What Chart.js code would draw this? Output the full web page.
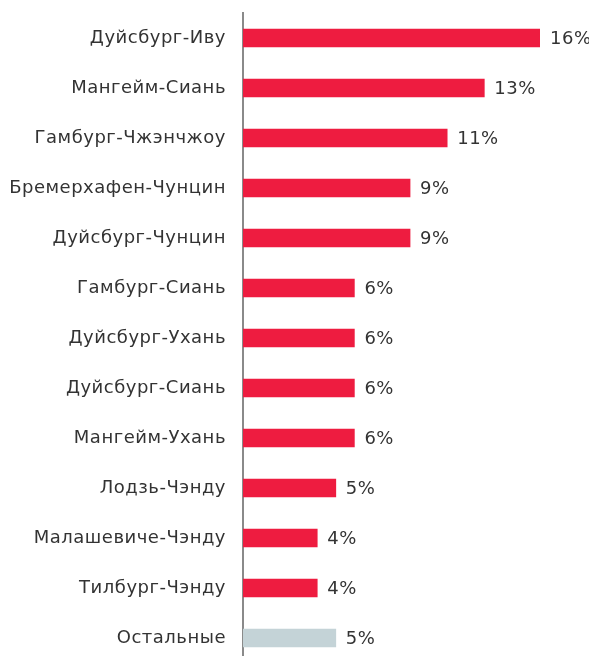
<!DOCTYPE html>
<html>
<head>
<meta charset="utf-8">
<script src="https://cdn.jsdelivr.net/npm/chart.js@4"></script>
<style>
  html, body { margin: 0; padding: 0; background: #fff; overflow: hidden; }
  canvas { display: block; }
</style>
</head>
<body>
<canvas id="grafico" width="589" height="663"></canvas>
<script>
// маршруты и доли
const routes = [
  'Дуйсбург-Иву', 'Мангейм-Сиань', 'Гамбург-Чжэнчжоу', 'Бремерхафен-Чунцин',
  'Дуйсбург-Чунцин', 'Гамбург-Сиань', 'Дуйсбург-Ухань', 'Дуйсбург-Сиань',
  'Мангейм-Ухань', 'Лодзь-Чэнду', 'Малашевиче-Чэнду', 'Тилбург-Чэнду', 'Остальные'
];
const shares = [16, 13, 11, 9, 9, 6, 6, 6, 6, 5, 4, 4, 5];
const barColors = routes.map(r => r === 'Остальные' ? '#c4d3d7' : '#ee1c40');

const FONT = "'DejaVu Sans', sans-serif";

// чуть разреженный текст для подписей
const spacing = {
  id: 'spacing',
  beforeDraw(chart) { chart.ctx.letterSpacing = '0.5px'; },
  afterDraw(chart) { chart.ctx.letterSpacing = '0px'; }
};

// подписи значений справа от полос
const valueLabels = {
  id: 'valueLabels',
  afterDatasetsDraw(chart) {
    const { ctx } = chart;
    const meta = chart.getDatasetMeta(0);
    ctx.save();
    ctx.font = '18px ' + FONT;
    ctx.fillStyle = '#333';
    ctx.textAlign = 'left';
    ctx.textBaseline = 'middle';
    meta.data.forEach((bar, i) => {
      ctx.fillText(shares[i] + '%', bar.x + 10, bar.y + 1);
    });
    ctx.restore();
  }
};

new Chart(document.getElementById('grafico'), {
  type: 'bar',
  data: {
    labels: routes,
    datasets: [{
      data: shares,
      backgroundColor: barColors,
      barThickness: 18
    }]
  },
  options: {
    indexAxis: 'y',
    responsive: false,
    animation: false,
    layout: { padding: { top: 13, right: 49, bottom: 0, left: 0 } },
    plugins: { legend: { display: false }, tooltip: { enabled: false } },
    scales: {
      x: {
        display: false,
        min: 0,
        max: 16
      },
      y: {
        afterFit(scale) {
          scale.width = 243;
          scale.paddingTop = 0;
          scale.paddingBottom = 0;
        },
        grid: { display: false, drawTicks: false },
        border: { display: true, color: '#8a8a8a', width: 2 },
        ticks: {
          padding: 17,
          color: '#333',
          font: { family: FONT, size: 18 }
        }
      }
    }
  },
  plugins: [spacing, valueLabels]
});
</script>
</body>
</html>
